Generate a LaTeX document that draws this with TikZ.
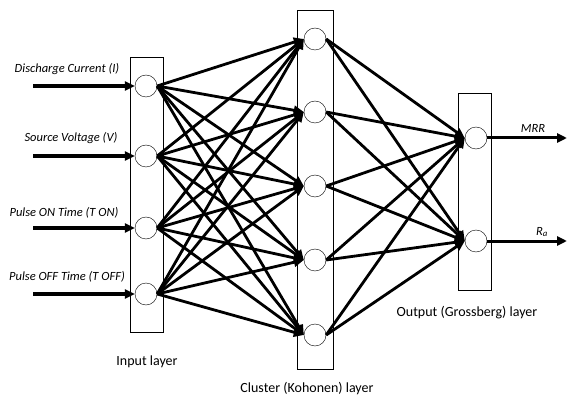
\documentclass[tikz,border=0pt]{standalone}
\usepackage{fontspec}
\setmainfont{Carlito}
\usetikzlibrary{
		calc,
		positioning,
		arrows.meta
	}
\tikzset{
		>={Triangle[length=10pt,width=9pt]}
	}

\begin{document}
\begin{tikzpicture}[x=1pt, y=1pt,
		neuron/.style={draw, thin, black, circle, fill=white, minimum size=22pt, inner sep=0pt},
		layerbox/.style={draw, thin, black, rectangle, inner sep=0pt},
		link/.style={line width=2.8pt, ->},
		inlabel/.style={font=\itshape\fontsize{12.5}{14}\selectfont},
		layerlabel/.style={font=\fontsize{14}{16}\selectfont}]
		\useasboundingbox (0,0) rectangle (568,-401);
		% layer boxes
		\node[layerbox, minimum width=33pt, minimum height=275pt] (inbox) at (146.5,-194.5) {};
		\node[layerbox, minimum width=36pt, minimum height=359pt] (clbox) at (315,-189.5) {};
		\node[layerbox, minimum width=33pt, minimum height=197pt] (outbox) at (474.5,-191.5) {};
		% input neurons
		\node[neuron] (i1) at (146,-86) {};
		\node[neuron] (i2) at (146,-156) {};
		\node[neuron] (i3) at (146,-228) {};
		\node[neuron] (i4) at (146,-294) {};
		% cluster neurons
		\node[neuron] (c1) at (315,-39) {};
		\node[neuron] (c2) at (315,-112) {};
		\node[neuron] (c3) at (315,-186) {};
		\node[neuron] (c4) at (315,-260) {};
		\node[neuron] (c5) at (315,-335) {};
		% output neurons
		\node[neuron] (o1) at (476,-138) {};
		\node[neuron] (o2) at (476,-241) {};
		% inputs
		\coordinate (a1) at (33,-86);
		\coordinate (a2) at (33,-156);
		\coordinate (a3) at (33,-228);
		\coordinate (a4) at (33,-294);
		\node[inlabel] (l1) at (67,-69) {Discharge Current (I)};
		\node[inlabel] (l2) at (71,-138) {Source Voltage (V)};
		\node[inlabel] (l3) at (64,-213) {Pulse ON Time (T ON)};
		\node[inlabel] (l4) at (67,-277) {Pulse OFF Time (T OFF)};
		\foreach \k in {1,...,4}
			\draw[line width=3.4pt, ->] (a\k) -- (i\k.west);
		% input -> cluster
		\foreach \k in {1,...,4}
			\foreach \j in {1,...,5}
				\draw[link] (i\k.east) -- (c\j.west);
		% cluster -> output
		\foreach \j in {1,...,5}
			\foreach \m in {1,2}
				\draw[link] (c\j.east) -- (o\m.west);
		% outputs
		\coordinate (b1) at (567,-138);
		\coordinate (b2) at (567,-241);
		\draw[line width=3pt, ->] (o1.east) -- (b1);
		\draw[line width=3pt, ->] (o2.east) -- (b2);
		\node[inlabel] (mrr) at (533,-128) {MRR};
		\node[inlabel] (ra) at (542,-232) {R\textsubscript{a}};
		% layer names
		\node[layerlabel] (inname) at (147,-362) {Input layer};
		\node[layerlabel] (clname) at (307,-389) {Cluster (Kohonen) layer};
		\node[layerlabel] (outname) at (467,-313) {Output (Grossberg) layer};
	\end{tikzpicture}
\end{document}
